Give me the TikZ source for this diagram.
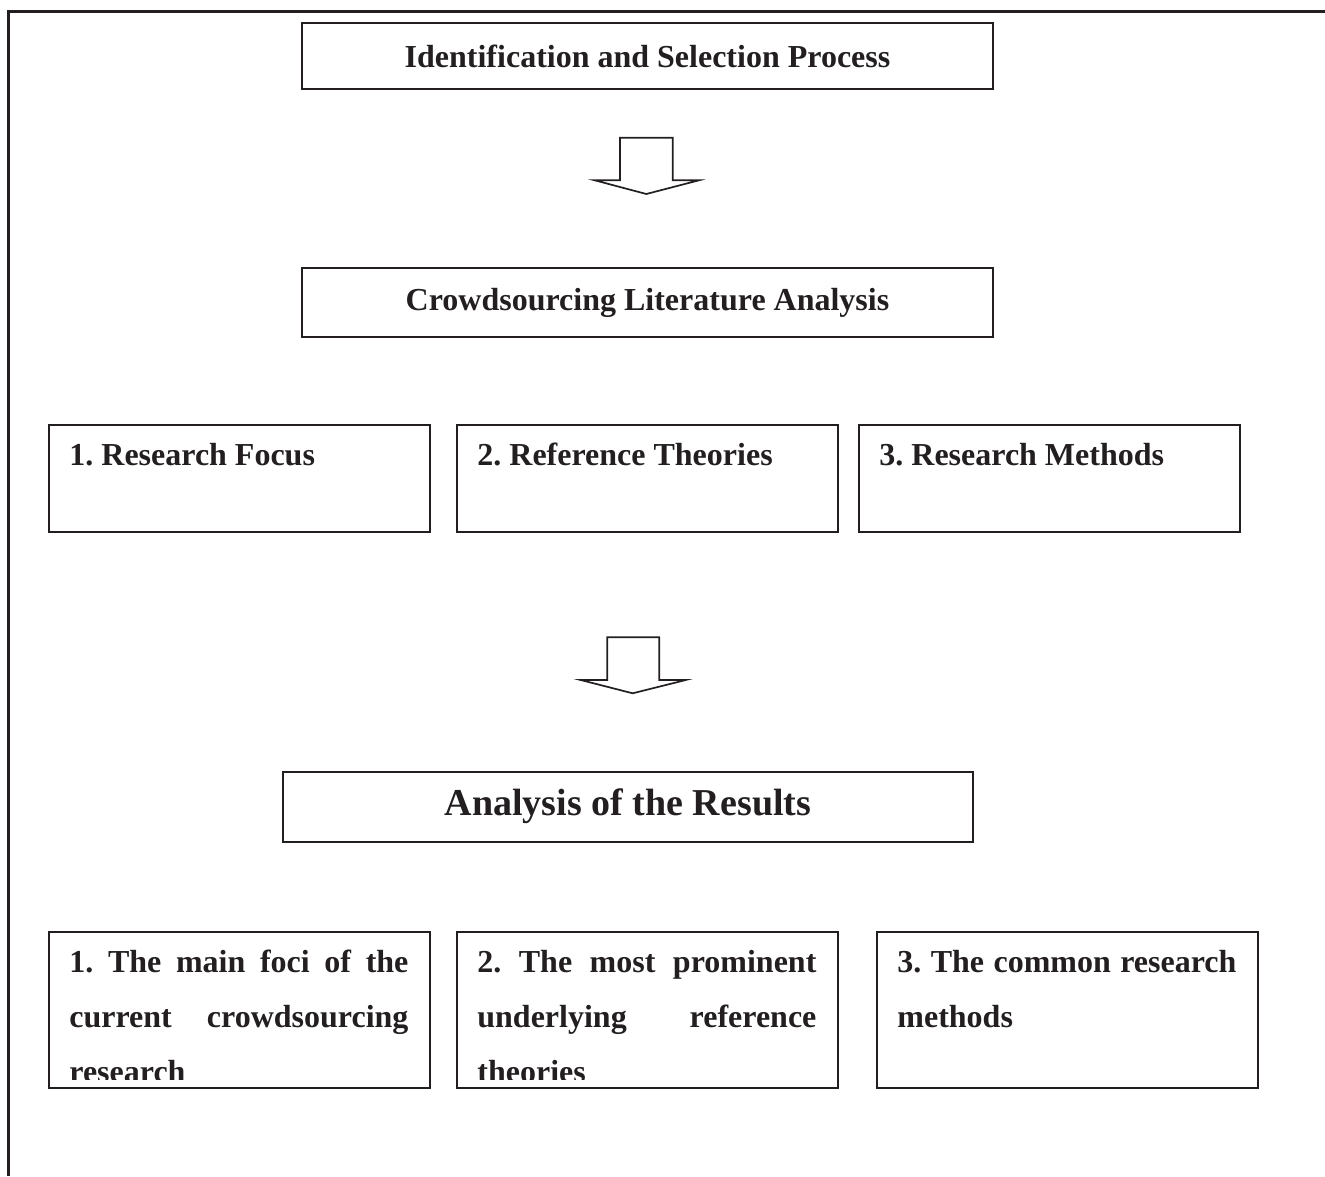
\documentclass[tikz,border=0pt]{standalone}
\usepackage{fontspec}
\setmainfont{Liberation Serif}
\frenchspacing
\definecolor{ink}{HTML}{231F20}

\tikzset{
  stage/.style={draw=ink, line width=1pt, minimum width=345.5pt, inner sep=0pt, text=ink},
  facet/.style={draw=ink, line width=1pt, minimum width=190.5pt, anchor=north west, inner sep=0pt},
  facettext/.style={anchor=base west, inner sep=0pt, text width=169.5pt, align=justify, text=ink,
    font=\fontsize{16}{27.5}\selectfont\bfseries},
  hollow/.style={draw=ink, line width=0.85pt, line join=miter},
}

\begin{document}
\begin{tikzpicture}[x=0.5pt, y=-0.5pt]
\useasboundingbox (0,0) rectangle (1325,1176);

% outer frame
\draw[ink, line width=1.1pt] (8.5,1176) -- (8.5,11.5) -- (1325,11.5);

\node[stage, minimum height=33pt, font=\fontsize{16}{19}\selectfont\bfseries] (ident) at (647.5,56) {Identification and Selection Process};
\draw[hollow] (620,137.7) -- (620,180.3) -- (594.7,180.3) -- (646.3,194) -- (699,180.3) -- (672.7,180.3) -- (672.7,137.7) -- cycle;
\node[stage, minimum height=34.5pt, font=\fontsize{16}{19}\selectfont\bfseries] (litana) at (647.5,302.5) {Crowdsourcing Literature Analysis};

% the three facets
\node[facet, minimum height=53.5pt] (focus) at (48,424) {};
\node[facet, minimum height=53.5pt] (theory) at (456,424) {};
\node[facet, minimum height=53.5pt] (method) at (858,424) {};
\node[facettext] (focus-t) at ([shift={(21,41)}]focus.north west) {1. Research Focus};
\node[facettext] (theory-t) at ([shift={(21,41)}]theory.north west) {2. Reference Theories};
\node[facettext] (method-t) at ([shift={(21,41)}]method.north west) {3. Research Methods};

\draw[hollow] (607.3,637.3) -- (607.3,680) -- (580.7,680) -- (632.7,693.3) -- (685.7,680) -- (659.3,680) -- (659.3,637.3) -- cycle;

\node[stage, minimum width=345pt, minimum height=35pt, font=\fontsize{19}{22}\selectfont\bfseries] (results) at (628,806.7) {Analysis of the Results};

% what came out of it
\node[facet, minimum height=78pt] (foci) at (48,931) {};
\node[facet, minimum height=78pt] (prominent) at (456,931) {};
\node[facet, minimum height=78pt] (common) at (876,931) {};
\begin{scope}
\clip (foci.north west) rectangle ([yshift=5pt]common.south east);
\node[facettext] (foci-t) at ([shift={(21,41)}]foci.north west)
  {1. The main foci of the\linebreak current crowdsourcing\linebreak research};
\node[facettext] (prominent-t) at ([shift={(21,41)}]prominent.north west)
  {2. The most prominent\linebreak underlying reference\linebreak theories};
\node[facettext] (common-t) at ([shift={(21,41)}]common.north west)
  {3. The common research\linebreak methods};
\end{scope}
\end{tikzpicture}
\end{document}
